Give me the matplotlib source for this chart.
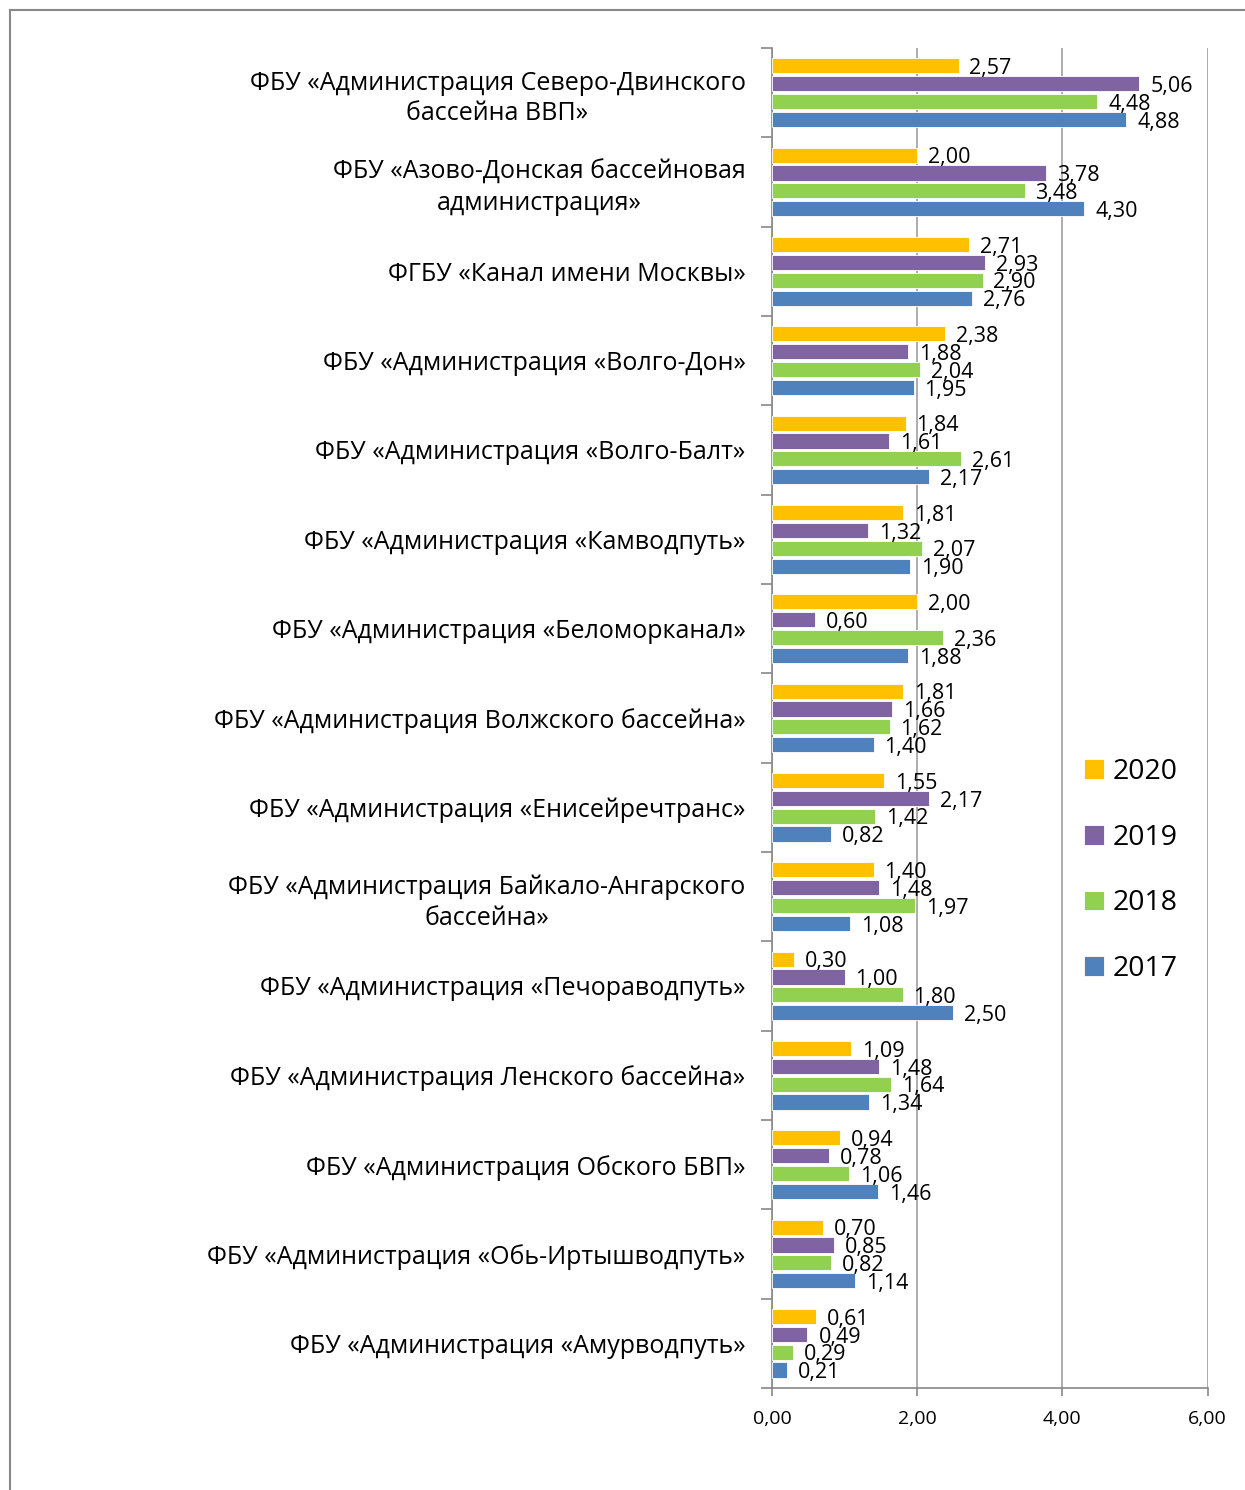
import matplotlib.pyplot as plt
import matplotlib.lines as mlines
import numpy as np

plt.rcParams['font.family'] = ['Open Sans', 'DejaVu Sans']

# --- data, top category first ---
categories = [
    'ФБУ «Администрация Северо-Двинского\nбассейна ВВП»',
    'ФБУ «Азово-Донская бассейновая\nадминистрация»',
    'ФГБУ «Канал имени Москвы»',
    'ФБУ «Администрация «Волго-Дон»',
    'ФБУ «Администрация «Волго-Балт»',
    'ФБУ «Администрация «Камводпуть»',
    'ФБУ «Администрация «Беломорканал»',
    'ФБУ «Администрация Волжского бассейна»',
    'ФБУ «Администрация «Енисейречтранс»',
    'ФБУ «Администрация Байкало-Ангарского\nбассейна»',
    'ФБУ «Администрация «Печораводпуть»',
    'ФБУ «Администрация Ленского бассейна»',
    'ФБУ «Администрация Обского БВП»',
    'ФБУ «Администрация «Обь-Иртышводпуть»',
    'ФБУ «Администрация «Амурводпуть»',
]
years = ['2020', '2019', '2018', '2017']
v2020 = [2.57, 2.00, 2.71, 2.38, 1.84, 1.81, 2.00, 1.81, 1.55, 1.40, 0.30, 1.09, 0.94, 0.70, 0.61]
v2019 = [5.06, 3.78, 2.93, 1.88, 1.61, 1.32, 0.60, 1.66, 2.17, 1.48, 1.00, 1.48, 0.78, 0.85, 0.49]
v2018 = [4.48, 3.48, 2.90, 2.04, 2.61, 2.07, 2.36, 1.62, 1.42, 1.97, 1.80, 1.64, 1.06, 0.82, 0.29]
v2017 = [4.88, 4.30, 2.76, 1.95, 2.17, 1.90, 1.88, 1.40, 0.82, 1.08, 2.50, 1.34, 1.46, 1.14, 0.21]
xticks = [0, 2, 4, 6]

colors = ['#FFC000', '#8064A2', '#92D050', '#4F81BD']
series = [v2020, v2019, v2018, v2017]
offsets = [-0.3, -0.1, 0.1, 0.3]

fig = plt.figure(figsize=(12.45, 14.90), dpi=100)
ax = fig.add_axes([0.620, 0.0685, 0.350, 0.8993])

y = np.arange(len(categories))
handles = []
for vals, col, off, yr in zip(series, colors, offsets, years):
    bars = ax.barh(y + off, vals, height=0.17, color=col, edgecolor='white',
                   linewidth=0.6, label=yr, zorder=3)
    handles.append(bars)
    for yy, v in zip(y + off, vals):
        ax.text(v + 0.15, yy + 0.03, f'{v:.2f}'.replace('.', ','), va='center',
                ha='left', fontsize=15.5, zorder=4)

ax.set_xlim(0, 6)
ax.set_ylim(len(categories) - 0.5, -0.5)
ax.set_xticks(xticks)
ax.set_xticklabels([f'{t:.2f}'.replace('.', ',') for t in xticks], fontsize=14)
ax.set_yticks(y)
ax.set_yticklabels(categories, fontsize=18, ha='right', multialignment='center',
                   linespacing=1.3)
ax.set_yticks(np.arange(len(categories) + 1) - 0.5, minor=True)
ax.tick_params(axis='y', which='major', length=0, pad=19)
ax.tick_params(axis='y', which='minor', length=8, color='#888888', width=1.2)
ax.tick_params(axis='x', length=6, color='#888888', width=1.2, pad=10)

ax.grid(axis='x', color='#A0A0A0', linewidth=1.2, zorder=0)
for s in ['top', 'right']:
    ax.spines[s].set_visible(False)
for s in ['left', 'bottom']:
    ax.spines[s].set_color('#888888')
    ax.spines[s].set_linewidth(1.2)

ax.legend(handles, years, loc='upper left', bbox_to_anchor=(0.657, 0.489),
          frameon=False, fontsize=20.5, handlelength=0.7, handleheight=0.7,
          handletextpad=0.3, labelspacing=1.32)

# outer border (top and left visible)
fig.add_artist(mlines.Line2D([10 / 1245, 1], [1 - 10 / 1490, 1 - 10 / 1490],
                             color='#888888', linewidth=1.5))
fig.add_artist(mlines.Line2D([10 / 1245, 10 / 1245], [0, 1 - 10 / 1490],
                             color='#888888', linewidth=1.5))

fig.savefig('out.png', dpi=100)
